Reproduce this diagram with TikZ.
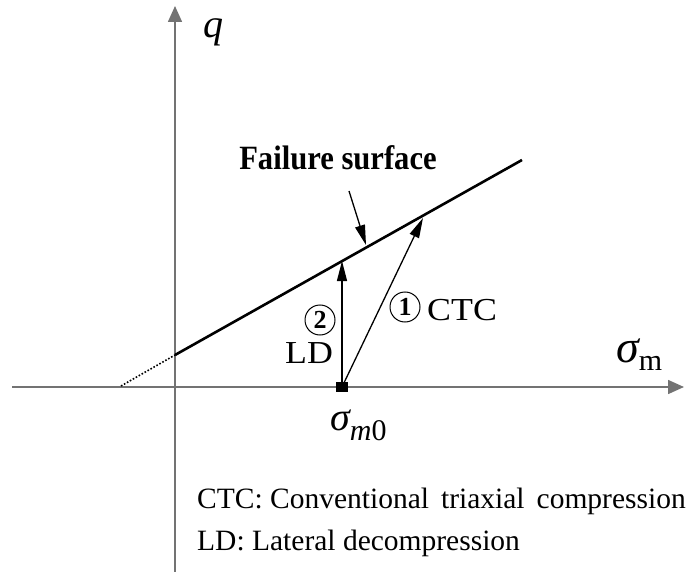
\documentclass[tikz,border=0pt]{standalone}
\usepackage{fontspec}
\setmainfont{Liberation Serif}
\newfontfamily\widefont[FakeStretch=1.12]{Liberation Serif}
\newfontfamily\narrowfont[FakeStretch=0.9]{Liberation Serif}
\usetikzlibrary{arrows.meta,positioning,calc}

\begin{document}
\begin{tikzpicture}[x=1pt, y=-1pt,
      axis/.style={draw=black!55, line width=1.6pt},
      path/.style={draw=black, line width=1.3pt},
      lbl/.style={font=\widefont\fontsize{32}{34}\selectfont, inner sep=0pt},
      legend/.style={font=\fontsize{29.5}{31}\selectfont, inner sep=0pt, anchor=base west},
      num/.style={circle, draw, line width=1pt, minimum size=30pt, inner sep=0pt,
                  font=\bfseries\fontsize{26}{26}\selectfont},
      pt/.style={fill=black, minimum width=12pt, minimum height=10pt, inner sep=0pt},
      axtip/.style={-{Triangle[length=16pt, width=14pt]}},
      >={Triangle[length=20pt, width=10pt]}]
    \useasboundingbox (0,0) rectangle (688,572);
    % axes
    \coordinate (xl) at (12,387);
    \coordinate (xr) at (684,387);
    \coordinate (yb) at (175,572);
    \coordinate (yt) at (175,6);
    \draw[axis, axtip] (xl) -- (xr);
    \draw[axis, axtip] (yb) -- (yt);
    \node[font=\fontsize{40}{40}\selectfont\itshape] (q) at (213,32) {q};
    \node[inner sep=0pt, anchor=base west] (sm) at (616,362)
      {\fontsize{46}{46}\selectfont\itshape σ\fontsize{30}{30}\selectfont\upshape\raisebox{-8pt}{m}};
    % failure surface and its extension
    \coordinate (fc) at (121,386);
    \coordinate (fa) at (175,355);
    \coordinate (fb) at (522,160);
    \draw[line width=2.6pt] (fa) -- (fb);
    \draw[line width=1.6pt, dash pattern=on 1.6pt off 1.8pt] (fc) -- (fa);
    \node[inner sep=0pt, anchor=base, font=\narrowfont\bfseries\fontsize{34}{34}\selectfont]
      (fs) at (338,170) {Failure surface};
    \coordinate (p1) at (349,191);
    \coordinate (p2) at (366,245);
    \draw[path, ->] (p1) -- (p2);
    % initial state and the two stress paths
    \node[pt] (s0) at (342,387) {};
    \coordinate (ld) at (342,261);
    \coordinate (ctc) at (423,218);
    \draw[path, ->] (s0.center) -- (ld);
    \draw[path, ->] (s0.center) -- (ctc);
    \node[num] (n2) at (320,320) {2};
    \node[lbl, anchor=base] (ldl) at (309,363) {LD};
    \node[num] (n1) at (405,307) {1};
    \node[lbl, anchor=base west] (ctcl) at (427,320) {CTC};
    \node[inner sep=0pt, anchor=base west] (s0l) at (330,430)
      {\fontsize{40}{40}\selectfont\itshape σ\fontsize{30}{30}\selectfont\raisebox{-10pt}{m\upshape 0}};
    % legend
    \node[legend] (leg1) at (197,508) {CTC: Conventional\hspace{12pt}triaxial\hspace{12pt}compression};
    \node[legend] (leg2) at (197,550) {LD: Lateral decompression};
  \end{tikzpicture}
\end{document}
